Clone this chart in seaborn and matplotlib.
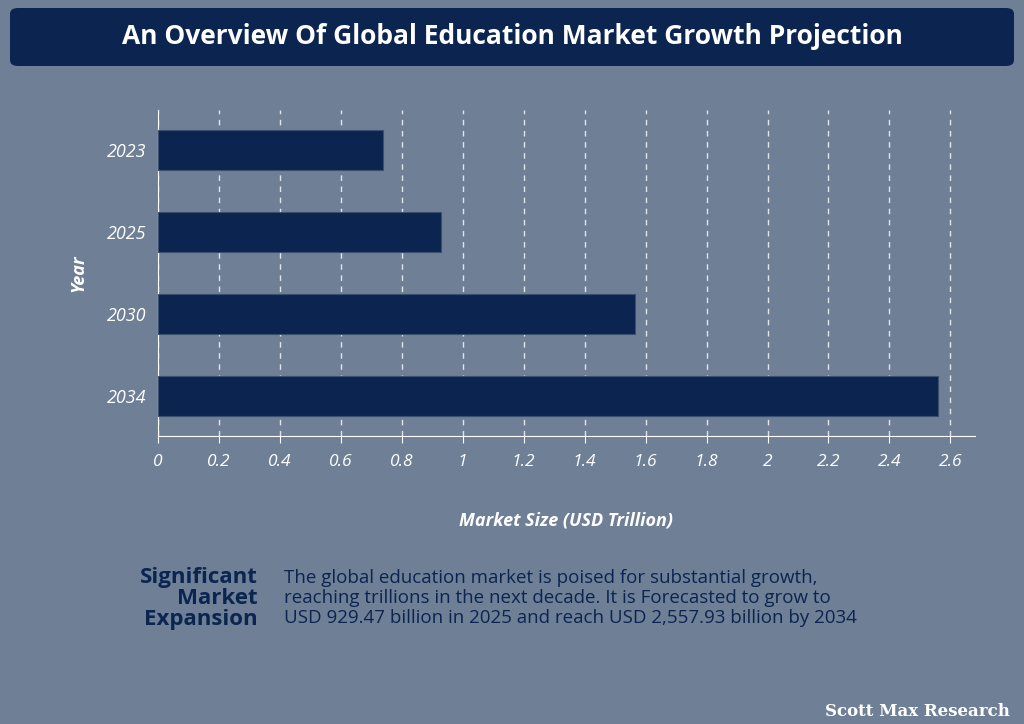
import matplotlib
matplotlib.use("Agg")
import matplotlib.pyplot as plt
import seaborn as sns
import pandas as pd
from matplotlib.patches import FancyBboxPatch

years = ["2023", "2025", "2030", "2034"]
market_size = [0.74, 0.929, 1.565, 2.558]
xticks = [0, 0.2, 0.4, 0.6, 0.8, 1, 1.2, 1.4, 1.6, 1.8, 2, 2.2, 2.4, 2.6]
xtick_labels = ["0", "0.2", "0.4", "0.6", "0.8", "1", "1.2", "1.4", "1.6", "1.8", "2", "2.2", "2.4", "2.6"]

BG = "#6e7f96"
NAVY = "#0b2550"
FONT = "Open Sans"
plt.rcParams["font.family"] = FONT

df = pd.DataFrame({"Year": years, "Size": market_size})
fig = plt.figure(figsize=(10.24, 7.24), dpi=100, facecolor=BG)
ax = fig.add_axes([0.154, 0.398, 0.798, 0.45])
ax.set_facecolor(BG)
sns.barplot(data=df, x="Size", y="Year", orient="h", color=NAVY, width=0.49,
            saturation=1, ax=ax, zorder=3, edgecolor="#3b4f6e", linewidth=0.8)
ax.set_xlim(0, 2.68)
ax.set_ylim(3.49, -0.49)
ax.set_xticks(xticks)
ax.set_xticklabels(xtick_labels, fontsize=12.5, style="italic", color="white")
for lbl in ax.get_yticklabels():
    lbl.set_fontsize(13); lbl.set_style("italic"); lbl.set_color("white")
ax.tick_params(axis="x", length=5, color="white", pad=8)
ax.tick_params(axis="y", length=0, pad=8)
ax.grid(axis="x", color="white", linestyle=(0, (4, 4)), linewidth=1, alpha=0.8, zorder=0)
ax.grid(axis="y", visible=False)
for s in ["top", "right"]:
    ax.spines[s].set_visible(False)
for s in ["left", "bottom"]:
    ax.spines[s].set_color("white")
ax.set_xlabel("Market Size (USD Trillion)", fontsize=13, weight="bold", style="italic",
              color="white", labelpad=30)
ax.set_ylabel("Year", fontsize=13, weight="bold", style="italic", color="white", labelpad=14)

# title banner
fig.patches.append(FancyBboxPatch((10/1024, 1-66/724), 1004/1024, 58/724,
                                  boxstyle="round,pad=0,rounding_size=0.008",
                                  transform=fig.transFigure, facecolor=NAVY, edgecolor="none"))
fig.text(0.5, 1-37/724, "An Overview Of Global Education Market Growth Projection",
         ha="center", va="center", fontsize=19, weight="bold", color="white")

fig.text(258/1024, 1-598/724, "Significant\nMarket\nExpansion", ha="right", va="center",
         fontsize=16, weight="bold", color=NAVY, linespacing=1.0)
fig.text(284/1024, 1-598/724,
         "The global education market is poised for substantial growth,\n"
         "reaching trillions in the next decade. It is Forecasted to grow to\n"
         "USD 929.47 billion in 2025 and reach USD 2,557.93 billion by 2034",
         ha="left", va="center", fontsize=13.5, color=NAVY, linespacing=1.15)
fig.text(1010/1024, 1-712/724, "Scott Max Research", ha="right", va="center",
         fontsize=12, weight="bold", color="white", family="DejaVu Serif")

fig.savefig("out.png", dpi=100, facecolor=BG)
